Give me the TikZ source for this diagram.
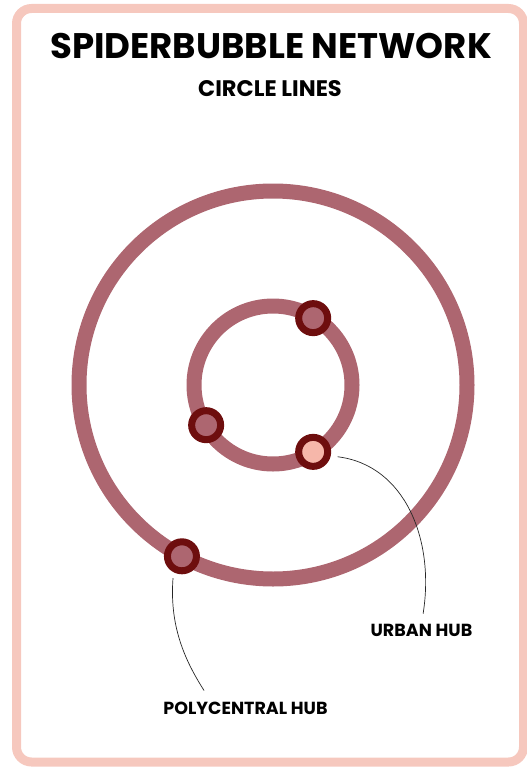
\documentclass[tikz,border=0pt]{standalone}
\usepackage{fontspec}
\setmainfont{Poppins}
\usetikzlibrary{positioning, calc}

\definecolor{ringred}{HTML}{AD6670}
\definecolor{hubdark}{HTML}{6E0E0E}
\definecolor{hubpink}{HTML}{F6B7AA}
\definecolor{framepink}{HTML}{F6C8BE}

\begin{document}
\begin{tikzpicture}[x=1pt, y=-1pt,
  ring/.style={draw=ringred, line width=15pt},
  hub/.style={draw=hubdark, circle, line width=7pt, fill=ringred, minimum size=29pt, inner sep=0pt},
  urbanhub/.style={hub, fill=hubpink},
  label/.style={font=\bfseries\fontsize{17.5}{20}\selectfont, inner sep=0pt},
  leader/.style={draw=black!85, line width=0.7pt}]
  \useasboundingbox (0,0) rectangle (527,768);
  \draw[framepink, line width=9pt, rounded corners=15pt] (16.5,8.5) rectangle (523.5,762);
  \node[font=\bfseries\fontsize{35.5}{40}\selectfont] (title) at (271,46) {SPIDERBUBBLE NETWORK};
  \node[font=\bfseries\fontsize{22.5}{26}\selectfont] (sub) at (270,89) {CIRCLE LINES};
  \coordinate (c) at (273,385);
  \draw[ring] (c) circle (194pt);
  \draw[ring] (c) circle (79pt);
  \node[hub] (h1) at ($(c)+(59:78pt)$) {};
  \node[hub] (h2) at ($(c)+(211:78pt)$) {};
  \node[urbanhub] (h3) at ($(c)+(-59:78pt)$) {};
  \node[hub] (h4) at ($(c)+(242:194pt)$) {};
  \node[label] (urban) at (421.5,630) {URBAN HUB};
  \node[label] (poly) at (245.5,708) {POLYCENTRAL HUB};
  \draw[leader, shorten <=7pt, shorten >=10pt] (h3.-13) .. controls (405,465) and (435,540) .. (urban.north);
  \draw[leader, shorten <=6pt, shorten >=13pt] (h4.242) .. controls (169,630) and (188,665) .. ($(poly.north west)!0.58!(poly.north)$);
\end{tikzpicture}
\end{document}
